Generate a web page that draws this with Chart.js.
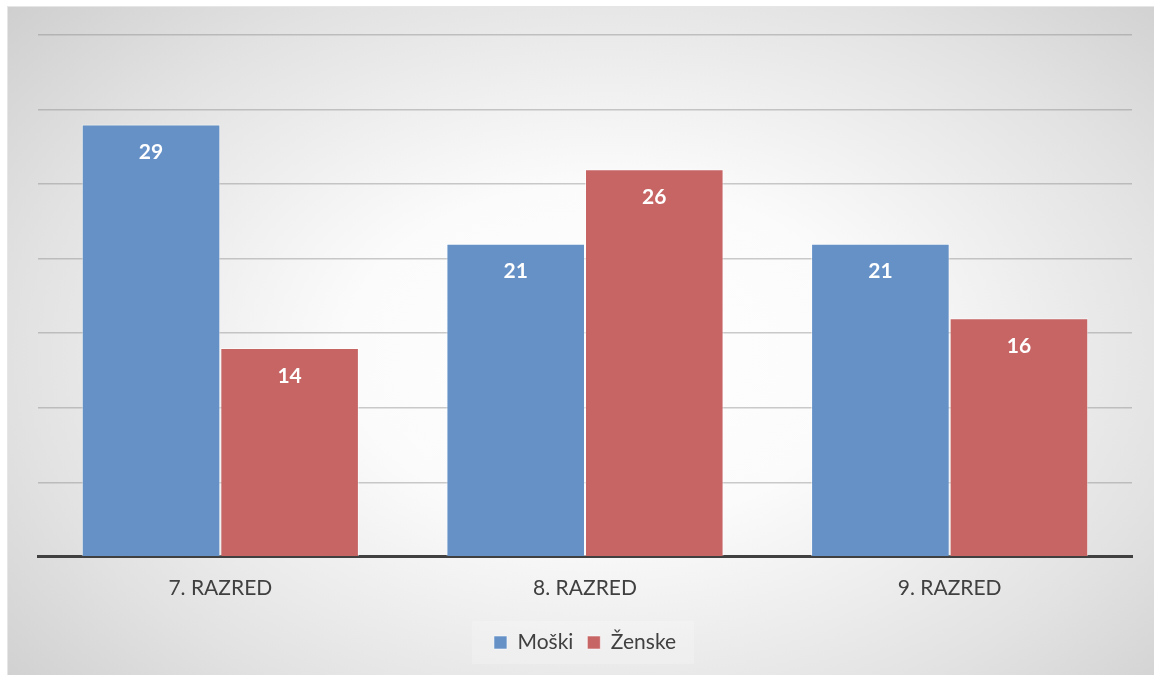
<!DOCTYPE html>
<html>
<head>
<meta charset="utf-8">
<script src="https://cdn.jsdelivr.net/npm/chart.js@4.4.0/dist/chart.umd.min.js"></script>
<style>
  html, body { margin: 0; padding: 0; background: #fff; }
  #wrap {
    position: absolute; left: 7px; top: 6px; width: 1147px; height: 669px;
    background: radial-gradient(ellipse 75% 85% at 52% 52%, #ffffff 0%, #fbfbfb 30%, #e2e2e2 68%, #c9c9c9 100%);
    border-left: 1px solid #e6e6e6; border-top: 1px solid #e6e6e6;
    box-sizing: border-box;
  }
</style>
</head>
<body>
<div id="wrap"><canvas id="chart" width="1146" height="668"></canvas></div>
<script>
const razredi = ['7. RAZRED', '8. RAZRED', '9. RAZRED'];
const moski = [29, 21, 21];
const zenske = [14, 26, 16];
const yMax = 35;
const yStep = 5;

const FONT = 'Lato, "Liberation Sans", sans-serif';

// white value labels just under the top of each bar
const barLabels = {
  id: 'barLabels',
  afterDatasetsDraw(chart) {
    const ctx = chart.ctx;
    ctx.save();
    ctx.fillStyle = '#ffffff';
    ctx.font = 'bold 21px ' + FONT;
    ctx.textAlign = 'center';
    ctx.textBaseline = 'middle';
    chart.data.datasets.forEach((ds, i) => {
      chart.getDatasetMeta(i).data.forEach((bar, j) => {
        ctx.fillText(ds.data[j], bar.x, bar.y + 28);
      });
    });
    ctx.restore();
  }
};

// faint panel behind the legend
const legendPanel = {
  id: 'legendPanel',
  beforeDraw(chart) {
    const lg = chart.legend;
    if (!lg || !lg.legendHitBoxes.length) return;
    const first = lg.legendHitBoxes[0];
    const last = lg.legendHitBoxes[lg.legendHitBoxes.length - 1];
    const ctx = chart.ctx;
    ctx.save();
    ctx.fillStyle = 'rgba(255,255,255,0.2)';
    ctx.fillRect(first.left - 22, first.top - 11, last.left + last.width - first.left + 40, first.height + 22);
    ctx.restore();
  }
};

new Chart(document.getElementById('chart').getContext('2d'), {
  type: 'bar',
  data: {
    labels: razredi,
    datasets: [
      {
        label: 'Moški',
        data: moski,
        backgroundColor: 'rgb(101,145,199)',
        borderColor: 'rgba(255,255,255,0.55)',
        borderWidth: 1,
        categoryPercentage: 0.76,
        barPercentage: 1.0
      },
      {
        label: 'Ženske',
        data: zenske,
        backgroundColor: 'rgb(199,101,101)',
        borderColor: 'rgba(255,255,255,0.55)',
        borderWidth: 1,
        categoryPercentage: 0.76,
        barPercentage: 1.0
      }
    ]
  },
  options: {
    responsive: false,
    animation: false,
    layout: { padding: { left: 30, right: 22, top: 28, bottom: 12 } },
    scales: {
      x: {
        grid: { display: false },
        border: { display: true, color: '#404040', width: 3 },
        ticks: { color: '#404040', font: { family: FONT, size: 21 }, padding: 11 },
        // extra room under the labels, keeps the legend where it is
        afterFit(scale) { scale.height += 6; }
      },
      y: {
        min: 0,
        max: yMax,
        ticks: { display: false, stepSize: yStep },
        border: { display: false },
        grid: { color: 'rgba(140,140,140,0.45)', lineWidth: 1.5, drawTicks: false }
      }
    },
    plugins: {
      legend: {
        position: 'bottom',
        labels: {
          color: '#404040',
          font: { family: FONT, size: 21 },
          boxWidth: 13,
          boxHeight: 13,
          padding: 14
        }
      },
      tooltip: { enabled: false }
    }
  },
  plugins: [legendPanel, barLabels]
});
</script>
</body>
</html>
